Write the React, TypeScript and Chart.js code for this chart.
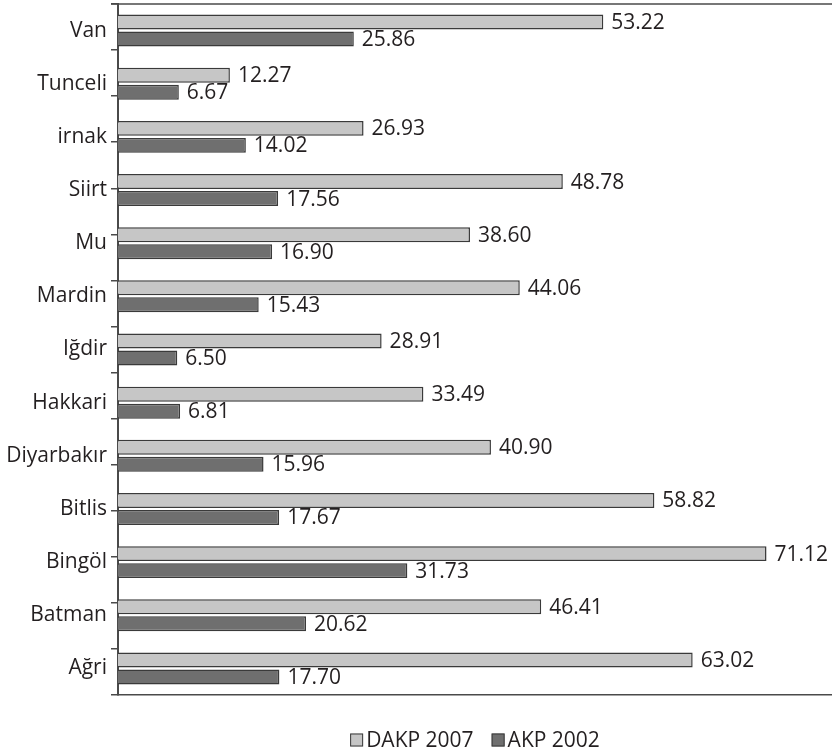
import React, { useEffect, useRef } from 'react';
import { Chart, registerables } from 'chart.js';

Chart.register(...registerables);

const provinces = ['Van', 'Tunceli', 'irnak', 'Siirt', 'Mu', 'Mardin', 'Iğdir', 'Hakkari', 'Diyarbakır', 'Bitlis', 'Bingöl', 'Batman', 'Ağri'];
const dakp2007 = [53.22, 12.27, 26.93, 48.78, 38.6, 44.06, 28.91, 33.49, 40.9, 58.82, 71.12, 46.41, 63.02];
const akp2002 = [25.86, 6.67, 14.02, 17.56, 16.9, 15.43, 6.5, 6.81, 15.96, 17.67, 31.73, 20.62, 17.7];
const seriesNames = ['DAKP 2007', 'AKP 2002'];
const xMax = 78.3;
const tickDivisions = 14;

const FONT = '"Open Sans", sans-serif';
const TEXT = '#231f20';
const LIGHT = '#c6c6c6';
const DARK = '#6f6f6f';
const EDGE = '#3a3a3a';
const AXIS = '#4a4a4a';

const valueLabels = {
  id: 'valueLabels',
  afterDatasetsDraw(chart: any) {
    const ctx = chart.ctx;
    ctx.save();
    ctx.font = `21px ${FONT}`;
    ctx.fillStyle = TEXT;
    ctx.textBaseline = 'middle';
    ctx.textAlign = 'left';
    chart.data.datasets.forEach((ds: any, di: number) => {
      const meta = chart.getDatasetMeta(di);
      meta.data.forEach((el: any, i: number) => {
        ctx.fillText(Number(ds.data[i]).toFixed(2), el.x + 8, el.y + 1);
      });
    });
    ctx.restore();
  },
};

const topFrame = {
  id: 'topFrame',
  afterDraw(chart: any) {
    const ctx = chart.ctx;
    const area = chart.chartArea;
    const y2 = chart.scales.y2;
    ctx.save();
    ctx.strokeStyle = AXIS;
    ctx.lineWidth = 1.5;
    ctx.beginPath();
    ctx.moveTo(y2.left, area.top);
    ctx.lineTo(area.right, area.top);
    ctx.stroke();
    ctx.restore();
  },
};

const bottomLegend = {
  id: 'bottomLegend',
  afterDraw(chart: any) {
    const ctx = chart.ctx;
    const area = chart.chartArea;
    ctx.save();
    ctx.font = `21px ${FONT}`;
    ctx.textBaseline = 'middle';
    ctx.textAlign = 'left';
    const box = 13;
    const gap = 3;
    const spacing = 18;
    const items = chart.data.datasets.map((ds: any) => ({
      text: ds.label,
      fill: ds.backgroundColor,
      w: ctx.measureText(ds.label).width,
    }));
    const total = items.reduce((s: number, it: any) => s + box + gap + it.w, 0) + spacing * (items.length - 1);
    let x = (area.left + area.right) / 2 - total / 2;
    const cy = 740;
    items.forEach((it: any) => {
      ctx.fillStyle = it.fill;
      ctx.fillRect(x, cy - box / 2, box, box);
      ctx.strokeStyle = EDGE;
      ctx.lineWidth = 1;
      ctx.strokeRect(x + 0.5, cy - box / 2 + 0.5, box - 1, box - 1);
      ctx.fillStyle = TEXT;
      ctx.fillText(it.text, x + box + gap, cy + 1);
      x += box + gap + it.w + spacing;
    });
    ctx.restore();
  },
};

export default function App() {
  const ref = useRef<HTMLCanvasElement | null>(null);

  useEffect(() => {
    document.body.style.margin = '0';
    if (!ref.current) return;
    const chart = new Chart(ref.current, {
      type: 'bar',
      data: {
        labels: provinces,
        datasets: [
          {
            label: seriesNames[0],
            data: dakp2007,
            backgroundColor: LIGHT,
            borderColor: EDGE,
            borderWidth: 1.5,
            categoryPercentage: 0.64,
            barPercentage: 0.88,
          },
          {
            label: seriesNames[1],
            data: akp2002,
            backgroundColor: DARK,
            borderColor: EDGE,
            borderWidth: 1.5,
            categoryPercentage: 0.64,
            barPercentage: 0.88,
          },
        ],
      },
      options: {
        indexAxis: 'y',
        responsive: false,
        animation: false,
        layout: { padding: { top: 4, bottom: 59, left: 0, right: 0 } },
        plugins: {
          legend: { display: false },
          tooltip: { enabled: false },
        },
        scales: {
          x: {
            type: 'linear',
            position: 'bottom',
            min: 0,
            max: xMax,
            ticks: { display: false },
            grid: { display: false, drawTicks: false },
            border: { display: true, color: AXIS, width: 1.5 },
            afterFit: (scale: any) => {
              scale.height = 0;
              scale.paddingLeft = 0;
              scale.paddingRight = 0;
            },
          },
          y: {
            type: 'category',
            position: 'left',
            weight: 1,
            ticks: { color: TEXT, font: { family: FONT, size: 21 }, padding: 4 },
            grid: { display: false, drawTicks: false },
            border: { display: false },
            afterFit: (scale: any) => {
              scale.width = 111;
              scale.paddingTop = 0;
              scale.paddingBottom = 0;
            },
          },
          y2: {
            type: 'linear',
            axis: 'y',
            position: 'left',
            weight: 0,
            min: 0,
            max: tickDivisions,
            ticks: { display: false, stepSize: 1 },
            grid: { display: true, drawOnChartArea: false, drawTicks: true, tickLength: 7, color: AXIS, lineWidth: 1.5 },
            border: { display: true, color: AXIS, width: 2 },
            afterFit: (scale: any) => {
              scale.width = 7;
              scale.paddingTop = 0;
              scale.paddingBottom = 0;
            },
          },
        },
      } as any,
      plugins: [valueLabels, topFrame, bottomLegend],
    });
    return () => chart.destroy();
  }, []);

  return (
    <div style={{ width: 832, height: 754 }}>
      <canvas ref={ref} width={832} height={754} style={{ display: 'block' }} />
    </div>
  );
}
